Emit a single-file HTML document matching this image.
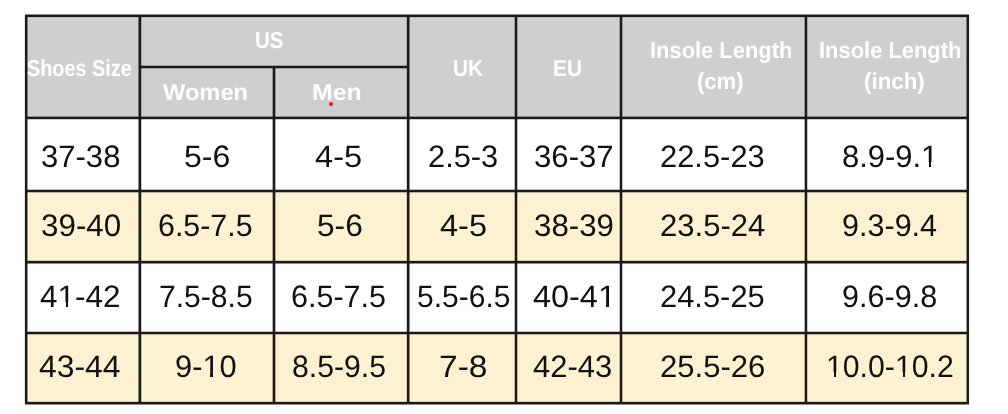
<!DOCTYPE html>
<html><head><meta charset="utf-8"><style>
html,body{margin:0;padding:0;background:#fff;}
body{width:1008px;height:414px;position:relative;overflow:hidden;font-family:"Liberation Sans",sans-serif;}
div{position:absolute;}
span{position:absolute;white-space:nowrap;line-height:1;transform-origin:0 0;text-rendering:geometricPrecision;}
.b{font-size:31.0px;color:#111;}
.h{font-size:23.0px;font-weight:bold;color:#fff;}
</style></head><body>
<div id="w" style="left:0;top:0;width:1008px;height:414px;will-change:transform;"><div style="left:25px;top:15px;width:944px;height:102px;background:#d0cecf"></div><div style="left:25px;top:117px;width:944px;height:73px;background:#ffffff"></div><div style="left:25px;top:190px;width:944px;height:71px;background:#fcf1d0"></div><div style="left:25px;top:261px;width:944px;height:71px;background:#ffffff"></div><div style="left:25px;top:332px;width:944px;height:70px;background:#fcf1d0"></div><div style="left:24px;top:15px;width:1px;height:389px;background:rgba(0,0,0,0.100)"></div><div style="left:27px;top:15px;width:1px;height:389px;background:rgba(0,0,0,0.400)"></div><div style="left:138px;top:15px;width:1px;height:389px;background:rgba(0,0,0,0.450)"></div><div style="left:141px;top:15px;width:1px;height:389px;background:rgba(0,0,0,0.200)"></div><div style="left:272px;top:66px;width:1px;height:338px;background:rgba(0,0,0,0.300)"></div><div style="left:275px;top:66px;width:1px;height:338px;background:rgba(0,0,0,0.300)"></div><div style="left:406px;top:15px;width:1px;height:389px;background:rgba(0,0,0,0.150)"></div><div style="left:409px;top:15px;width:1px;height:389px;background:rgba(0,0,0,0.450)"></div><div style="left:514px;top:15px;width:1px;height:389px;background:rgba(0,0,0,0.250)"></div><div style="left:517px;top:15px;width:1px;height:389px;background:rgba(0,0,0,0.250)"></div><div style="left:619px;top:15px;width:1px;height:389px;background:rgba(0,0,0,0.250)"></div><div style="left:622px;top:15px;width:1px;height:389px;background:rgba(0,0,0,0.250)"></div><div style="left:804px;top:15px;width:1px;height:389px;background:rgba(0,0,0,0.300)"></div><div style="left:807px;top:15px;width:1px;height:389px;background:rgba(0,0,0,0.200)"></div><div style="left:966px;top:15px;width:1px;height:389px;background:rgba(0,0,0,0.400)"></div><div style="left:969px;top:15px;width:1px;height:389px;background:rgba(0,0,0,0.050)"></div><div style="left:25px;top:14px;width:944px;height:1px;background:rgba(0,0,0,0.450)"></div><div style="left:25px;top:17px;width:944px;height:1px;background:rgba(0,0,0,0.100)"></div><div style="left:25px;top:116px;width:944px;height:1px;background:rgba(0,0,0,0.300)"></div><div style="left:25px;top:119px;width:944px;height:1px;background:rgba(0,0,0,0.200)"></div><div style="left:25px;top:189px;width:944px;height:1px;background:rgba(0,0,0,0.250)"></div><div style="left:25px;top:192px;width:944px;height:1px;background:rgba(0,0,0,0.250)"></div><div style="left:25px;top:260px;width:944px;height:1px;background:rgba(0,0,0,0.150)"></div><div style="left:25px;top:263px;width:944px;height:1px;background:rgba(0,0,0,0.450)"></div><div style="left:25px;top:331px;width:944px;height:1px;background:rgba(0,0,0,0.250)"></div><div style="left:25px;top:334px;width:944px;height:1px;background:rgba(0,0,0,0.250)"></div><div style="left:25px;top:401px;width:944px;height:1px;background:rgba(0,0,0,0.150)"></div><div style="left:25px;top:404px;width:944px;height:1px;background:rgba(0,0,0,0.450)"></div><div style="left:139px;top:65px;width:268px;height:1px;background:rgba(0,0,0,0.250)"></div><div style="left:139px;top:68px;width:268px;height:1px;background:rgba(0,0,0,0.250)"></div><div style="left:25px;top:15px;width:2px;height:389px;background:#1a1a1a"></div><div style="left:139px;top:15px;width:2px;height:389px;background:#1a1a1a"></div><div style="left:273px;top:66px;width:2px;height:338px;background:#1a1a1a"></div><div style="left:407px;top:15px;width:2px;height:389px;background:#1a1a1a"></div><div style="left:515px;top:15px;width:2px;height:389px;background:#1a1a1a"></div><div style="left:620px;top:15px;width:2px;height:389px;background:#1a1a1a"></div><div style="left:805px;top:15px;width:2px;height:389px;background:#1a1a1a"></div><div style="left:967px;top:15px;width:2px;height:389px;background:#1a1a1a"></div><div style="left:25px;top:15px;width:944px;height:2px;background:#1a1a1a"></div><div style="left:25px;top:117px;width:944px;height:2px;background:#1a1a1a"></div><div style="left:25px;top:190px;width:944px;height:2px;background:#1a1a1a"></div><div style="left:25px;top:261px;width:944px;height:2px;background:#1a1a1a"></div><div style="left:25px;top:332px;width:944px;height:2px;background:#1a1a1a"></div><div style="left:25px;top:402px;width:944px;height:2px;background:#1a1a1a"></div><div style="left:139px;top:66px;width:268px;height:2px;background:#1a1a1a"></div><span class="b" style="left:40.70px;top:140.50px;transform:scale(1.0013,1.0000)">37-38</span><span class="b" style="left:183.97px;top:140.50px;transform:scale(1.0333,1.0000)">5-6</span><span class="b" style="left:314.95px;top:140.50px;transform:scale(1.0524,1.0000)">4-5</span><span class="b" style="left:427.81px;top:140.50px;transform:scale(0.9940,1.0000)">2.5-3</span><span class="b" style="left:534.19px;top:140.50px;transform:scale(1.0052,1.0000)">36-37</span><span class="b" style="left:659.61px;top:140.50px;transform:scale(0.9961,1.0000)">22.5-23</span><span class="b" style="left:842.20px;top:140.50px;transform:scale(0.9978,1.0000)">8.9-9.1</span><span class="b" style="left:41.09px;top:210.20px;transform:scale(1.0117,1.0000)">39-40</span><span class="b" style="left:158.14px;top:210.20px;transform:scale(0.9796,1.0000)">6.5-7.5</span><span class="b" style="left:317.08px;top:210.20px;transform:scale(1.0214,1.0000)">5-6</span><span class="b" style="left:439.75px;top:210.20px;transform:scale(1.0476,1.0000)">4-5</span><span class="b" style="left:533.99px;top:210.20px;transform:scale(1.0078,1.0000)">38-39</span><span class="b" style="left:659.60px;top:210.20px;transform:scale(1.0020,1.0000)">23.5-24</span><span class="b" style="left:842.21px;top:210.20px;transform:scale(0.9853,1.0000)">9.3-9.4</span><span class="b" style="left:39.58px;top:280.50px;transform:scale(1.0156,1.0000)">41-42</span><span class="b" style="left:158.96px;top:280.50px;transform:scale(0.9710,1.0000)">7.5-8.5</span><span class="b" style="left:290.73px;top:280.50px;transform:scale(0.9849,1.0000)">6.5-7.5</span><span class="b" style="left:416.83px;top:280.50px;transform:scale(0.9681,1.0000)">5.5-6.5</span><span class="b" style="left:533.35px;top:280.50px;transform:scale(1.0458,1.0000)">40-41</span><span class="b" style="left:659.61px;top:280.50px;transform:scale(0.9961,1.0000)">24.5-25</span><span class="b" style="left:842.21px;top:280.50px;transform:scale(0.9862,1.0000)">9.6-9.8</span><span class="b" style="left:39.27px;top:350.60px;transform:scale(1.0273,1.0000)">43-44</span><span class="b" style="left:175.20px;top:350.60px;transform:scale(0.9950,1.0000)">9-10</span><span class="b" style="left:291.73px;top:350.60px;transform:scale(0.9745,1.0000)">8.5-9.5</span><span class="b" style="left:438.94px;top:350.60px;transform:scale(1.0805,1.0000)">7-8</span><span class="b" style="left:533.40px;top:350.60px;transform:scale(0.9987,1.0000)">42-43</span><span class="b" style="left:659.60px;top:350.60px;transform:scale(1.0020,1.0000)">25.5-26</span><span class="b" style="left:825.98px;top:350.60px;transform:scale(0.9748,1.0000)">10.0-10.2</span><span class="h" style="left:26.94px;top:56.50px;transform:scale(0.8633,1.0000)">Shoes Size</span><span class="h" style="left:254.71px;top:28.60px;transform:scale(0.8933,1.0000)">US</span><span class="h" style="left:163.40px;top:80.50px;transform:scale(1.0284,1.0000)">Women</span><span class="h" style="left:312.34px;top:81.00px;transform:scale(1.0814,1.0000)">Men</span><span class="h" style="left:452.59px;top:56.70px;transform:scale(0.9094,1.0000)">UK</span><span class="h" style="left:553.19px;top:56.70px;transform:scale(0.9069,1.0000)">EU</span><span class="h" style="left:649.60px;top:39.30px;transform:scale(0.9521,1.0000)">Insole Length</span><span class="h" style="left:697.44px;top:70.40px;transform:scale(0.9596,1.0000)">(cm)</span><span class="h" style="left:818.69px;top:39.00px;transform:scale(0.9527,1.0000)">Insole Length</span><span class="h" style="left:864.03px;top:70.20px;transform:scale(0.9705,1.0000)">(inch)</span><div style="left:922px;top:162px;width:7px;height:5px;background:#ffffff"></div><div style="left:931px;top:162px;width:7px;height:5px;background:#ffffff"></div><div style="left:59px;top:302px;width:7px;height:5px;background:#ffffff"></div><div style="left:68px;top:302px;width:7px;height:5px;background:#ffffff"></div><div style="left:599px;top:303px;width:7px;height:4px;background:#ffffff"></div><div style="left:609px;top:303px;width:7px;height:4px;background:#ffffff"></div><div style="left:204px;top:373px;width:6px;height:4px;background:#fcf1d0"></div><div style="left:213px;top:373px;width:6px;height:4px;background:#fcf1d0"></div><div style="left:827px;top:372px;width:7px;height:5px;background:#fcf1d0"></div><div style="left:836px;top:372px;width:7px;height:5px;background:#fcf1d0"></div><div style="left:896px;top:372px;width:7px;height:5px;background:#fcf1d0"></div><div style="left:905px;top:372px;width:7px;height:5px;background:#fcf1d0"></div><div style="left:329px;top:102px;width:4px;height:4px;border-radius:50%;background:#e8141c"></div></div>
</body></html>
